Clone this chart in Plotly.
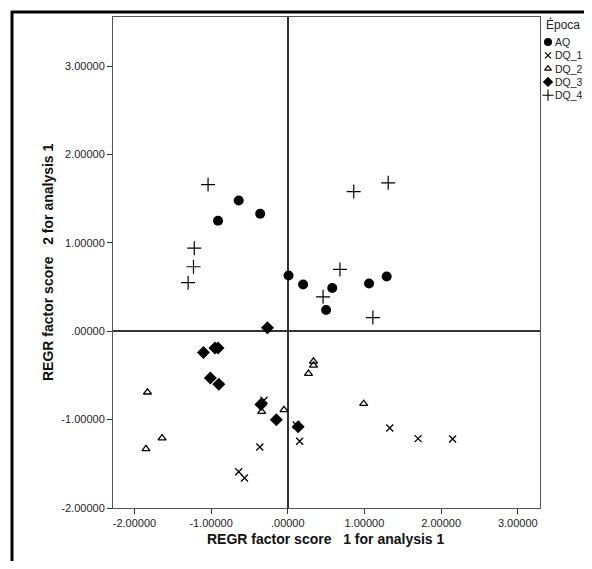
import plotly.graph_objects as go

# ---- data ----
aq_x = [-0.91, -0.64, -0.36, 0.01, 0.20, 0.58, 0.50, 1.06, 1.29]
aq_y = [1.25, 1.48, 1.33, 0.63, 0.53, 0.49, 0.24, 0.54, 0.62]

dq1_x = [-0.31, -0.365, -0.64, -0.565, 0.11, 0.155, 1.33, 1.70, 2.15]
dq1_y = [-0.78, -1.31, -1.59, -1.66, -1.06, -1.245, -1.095, -1.215, -1.22]

dq2_x = [-1.83, -1.64, -1.85, -0.34, -0.05, 0.335, 0.335, 0.27, 0.99]
dq2_y = [-0.69, -1.21, -1.33, -0.91, -0.89, -0.34, -0.385, -0.48, -0.82]

dq3_x = [-0.265, -1.10, -0.95, -0.91, -1.01, -0.90, -0.35, -0.15, 0.135]
dq3_y = [0.04, -0.24, -0.19, -0.19, -0.53, -0.60, -0.83, -1.00, -1.08]

dq4_x = [-1.04, -1.22, -1.23, -1.30, 0.86, 1.31, 0.68, 0.46, 1.11]
dq4_y = [1.66, 0.94, 0.73, 0.55, 1.58, 1.68, 0.70, 0.39, 0.155]

x_tickvals = [-2, -1, 0, 1, 2, 3]
x_ticktext = ["-2.00000", "-1.00000", ".00000", "1.00000", "2.00000", "3.00000"]
y_tickvals = [-2, -1, 0, 1, 2, 3]
y_ticktext = ["-2.00000", "-1.00000", ".00000", "1.00000", "2.00000", "3.00000"]

series_names = ["AQ", "DQ_1", "DQ_2", "DQ_3", "DQ_4"]
legend_title = "Época"

FONT = "Liberation Sans, Arial, sans-serif"

# the page has an 8px body margin; keep the figure inside the window (no scrollbars)
OFF = 8
W, H = 592 - 2 * OFF, 569 - 2 * OFF

# plot box in window pixels
PL, PR, PT, PB = 113, 540, 17, 508

def fx(px):
    return (px - OFF) / W

def fy(py):
    return 1 - (py - OFF) / H

marker_styles = [
    dict(symbol="circle", size=10, color="black"),
    dict(symbol="x-thin-open", size=7, color="black", line=dict(width=1.3, color="black")),
    dict(symbol="triangle-up-open", size=7, color="black", line=dict(width=1.3, color="black")),
    dict(symbol="diamond", size=10, color="black"),
    dict(symbol="cross-thin-open", size=10, color="black", line=dict(width=1.2, color="black")),
]
legend_marker_styles = [
    dict(symbol="circle", size=8, color="black"),
    dict(symbol="x-thin-open", size=6, color="black", line=dict(width=1.2, color="black")),
    dict(symbol="triangle-up-open", size=6, color="black", line=dict(width=1.1, color="black")),
    dict(symbol="diamond", size=8, color="black"),
    dict(symbol="cross-thin-open", size=8, color="black", line=dict(width=1.1, color="black")),
]

xs_all = [aq_x, dq1_x, dq2_x, dq3_x, dq4_x]
ys_all = [aq_y, dq1_y, dq2_y, dq3_y, dq4_y]

fig = go.Figure()
for name, xs, ys, mk in zip(series_names, xs_all, ys_all, marker_styles):
    fig.add_trace(go.Scatter(x=xs, y=ys, mode="markers", name=name, marker=mk,
                             showlegend=False, xaxis="x", yaxis="y"))

# compact legend drawn on its own small axes (window pixel units)
LEG_X0, LEG_X1, LEG_Y0, LEG_Y1 = 540, 584, 12, 110
LEG_FIRST, LEG_STEP = 42, 13.3
for i, (name, mk) in enumerate(zip(series_names, legend_marker_styles)):
    yy = LEG_FIRST + i * LEG_STEP
    fig.add_trace(go.Scatter(x=[548], y=[yy], mode="markers", marker=mk, showlegend=False,
                             hoverinfo="skip", cliponaxis=False, xaxis="x2", yaxis="y2"))
    fig.add_annotation(text=name, xref="x2", yref="y2", x=553, y=yy, xanchor="left",
                       yanchor="middle", showarrow=False,
                       font=dict(family=FONT, size=10.5, color="#222222"))
fig.add_annotation(text=legend_title, xref="x2", yref="y2", x=544, y=24, xanchor="left",
                   yanchor="middle", showarrow=False,
                   font=dict(family=FONT, size=12, color="#222222"))

axis_common = dict(
    showgrid=False,
    zeroline=True,
    zerolinecolor="#333333",
    zerolinewidth=1.5,
    showline=True,
    linecolor="#555555",
    linewidth=1,
    mirror=True,
    ticks="outside",
    ticklen=5,
    tickcolor="#333333",
    tickfont=dict(family=FONT, size=11, color="#222222"),
)
hidden = dict(visible=False, showgrid=False, zeroline=False, fixedrange=True)

fig.update_layout(
    width=W,
    height=H,
    margin=dict(l=0, r=0, t=0, b=0, autoexpand=False),
    paper_bgcolor="white",
    plot_bgcolor="rgba(0,0,0,0)",
    font=dict(family=FONT, color="#222222"),
    showlegend=False,
    xaxis=dict(domain=[fx(PL), fx(PR)], anchor="y", range=[-2.28, 3.29],
               tickvals=x_tickvals, ticktext=x_ticktext, **axis_common),
    yaxis=dict(domain=[fy(PB), fy(PT)], anchor="x", range=[-2.0, 3.556],
               tickvals=y_tickvals, ticktext=y_ticktext, **axis_common),
    xaxis2=dict(domain=[fx(LEG_X0), fx(LEG_X1)], anchor="y2", range=[LEG_X0, LEG_X1], **hidden),
    yaxis2=dict(domain=[fy(LEG_Y1), fy(LEG_Y0)], anchor="x2", range=[LEG_Y1, LEG_Y0], **hidden),
)

# axis titles
fig.add_annotation(text="<b>REGR factor score   1 for analysis 1</b>", xref="paper", yref="paper",
                   x=fx(326), y=fy(549), showarrow=False,
                   font=dict(family=FONT, size=14, color="#111111"))
fig.add_annotation(text="<b>REGR factor score   2 for analysis 1</b>", xref="paper", yref="paper",
                   x=fx(38), y=fy(262), showarrow=False, textangle=-90,
                   font=dict(family=FONT, size=14, color="#111111"))

# outer frame (left and top edges)
fig.add_shape(type="line", xref="paper", yref="paper",
              x0=fx(11), x1=1.0, y0=fy(12), y1=fy(12),
              line=dict(color="black", width=3))
fig.add_shape(type="line", xref="paper", yref="paper",
              x0=fx(12), x1=fx(12), y0=fy(11), y1=0.0,
              line=dict(color="black", width=3))

fig.write_html("out.html")
